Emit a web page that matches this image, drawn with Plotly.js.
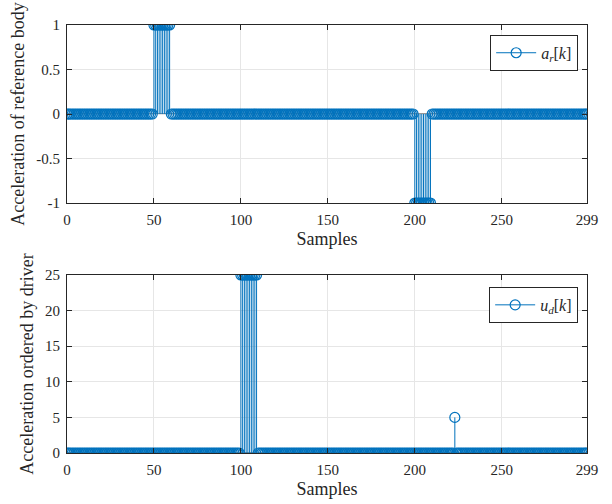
<!DOCTYPE html>
<html>
<head>
<meta charset="utf-8">
<script src="https://cdn.plot.ly/plotly-3.0.1.min.js"></script>
<style>html,body{margin:0;padding:0;background:#fff;}#chart{width:612px;height:504px;}</style>
</head>
<body>
<div id="chart"></div>
<script>
// ---- data ----
const nSamples = 300;                 // samples 0..299
const arIdx = [50,51,52,53,54,55,56,57,58,59, 200,201,202,203,204,205,206,207,208,209];
const arVal = [1,1,1,1,1,1,1,1,1,1, -1,-1,-1,-1,-1,-1,-1,-1,-1,-1];
const udIdx = [100,101,102,103,104,105,106,107,108,109, 223];
const udVal = [25,25,25,25,25,25,25,25,25,25, 5];
const xTicks = [0,50,100,150,200,250,299];
const yTicksTop = [-1,-0.5,0,0.5,1];
const yTickTextTop = ['-1','-0.5','0','0.5','1'];
const yTicksBot = [0,5,10,15,20,25];

// ---- build series ----
function series(idx, val){
  const k = [], v = [];
  for (let i=0;i<nSamples;i++){ k.push(i); v.push(0); }
  idx.forEach((j,n)=>{ v[j]=val[n]; });
  return {k, v};
}
function stems(s){
  const x=[], y=[];
  s.k.forEach((k,i)=>{ if (s.v[i]!==0){ x.push(k,k,null); y.push(0,s.v[i],null);} });
  return {x,y};
}
const blue = '#0072BD';
const ar = series(arIdx, arVal), ud = series(udIdx, udVal);
const arS = stems(ar), udS = stems(ud);
const mk = {symbol:'circle-open', size:10, color:blue, line:{width:1.2, color:blue}};

const traces = [
  {x:arS.x, y:arS.y, mode:'lines', line:{color:blue,width:1}, xaxis:'x', yaxis:'y', showlegend:false, hoverinfo:'skip'},
  {x:ar.k, y:ar.v, mode:'markers', marker:mk, xaxis:'x', yaxis:'y', showlegend:false},
  {x:[-50], y:[-50], mode:'lines+markers', line:{color:blue,width:1}, marker:mk, xaxis:'x', yaxis:'y',
   name:'<i>a</i><sub><i>r</i></sub>[<i>k</i>]', legend:'legend'},
  {x:udS.x, y:udS.y, mode:'lines', line:{color:blue,width:1}, xaxis:'x2', yaxis:'y2', showlegend:false, hoverinfo:'skip'},
  {x:ud.k, y:ud.v, mode:'markers', marker:mk, xaxis:'x2', yaxis:'y2', showlegend:false},
  {x:[-50], y:[-50], mode:'lines+markers', line:{color:blue,width:1}, marker:mk, xaxis:'x2', yaxis:'y2',
   name:'<i>u</i><sub><i>d</i></sub>[<i>k</i>]', legend:'legend2'}
];

const fam = 'Liberation Serif, serif';
const ink = '#262626';
const font = {family:fam, color:ink, size:15};
function axBase(){ return {showline:true, mirror:'ticks', linecolor:ink, linewidth:1, ticks:'inside', ticklen:5,
  tickcolor:ink, showgrid:true, gridcolor:'#e6e6e6', gridwidth:1, zeroline:false, ticklabelstandoff:3,
  tickfont:{family:fam, size:15, color:ink}}; }
const xax = (anchor)=>Object.assign(axBase(), {domain:[0,1], anchor:anchor, range:[0,299],
  tickvals:xTicks, ticktext:xTicks.map(String),
  title:{text:'Samples', font:{family:fam, size:18, color:ink}, standoff:5}});

const layout = {
  width:612, height:504, margin:{l:67, r:25, t:25, b:51},
  paper_bgcolor:'#fff', plot_bgcolor:'#fff', font:font,
  xaxis: xax('y'),
  yaxis: Object.assign(axBase(), {domain:[0.584,1], anchor:'x', range:[-1,1],
    tickvals:yTicksTop, ticktext:yTickTextTop,
    title:{text:'Acceleration of reference body', font:{family:fam, size:18, color:ink}, standoff:6}}),
  xaxis2: xax('y2'),
  yaxis2: Object.assign(axBase(), {domain:[0,0.416], anchor:'x2', range:[0,25],
    tickvals:yTicksBot, ticktext:yTicksBot.map(String),
    title:{text:'Acceleration ordered by driver', font:{family:fam, size:18, color:ink}, standoff:6}}),
  legend:{x:0.983, xanchor:'right', y:0.977, yanchor:'top', bgcolor:'#fff', bordercolor:ink, borderwidth:1,
    font:{family:fam, size:16, color:ink}, itemwidth:40},
  legend2:{x:0.983, xanchor:'right', y:0.388, yanchor:'top', bgcolor:'#fff', bordercolor:ink, borderwidth:1,
    font:{family:fam, size:16, color:ink}, itemwidth:40},
  shapes:[
    {type:'line', xref:'x', yref:'y', x0:0, x1:299, y0:0, y1:0, line:{color:ink, width:1}, layer:'below'},
    {type:'line', xref:'x2', yref:'y2', x0:0, x1:299, y0:0, y1:0, line:{color:ink, width:1}, layer:'below'}
  ]
};
Plotly.newPlot('chart', traces, layout, {staticPlot:true, displayModeBar:false});
</script>
</body>
</html>
